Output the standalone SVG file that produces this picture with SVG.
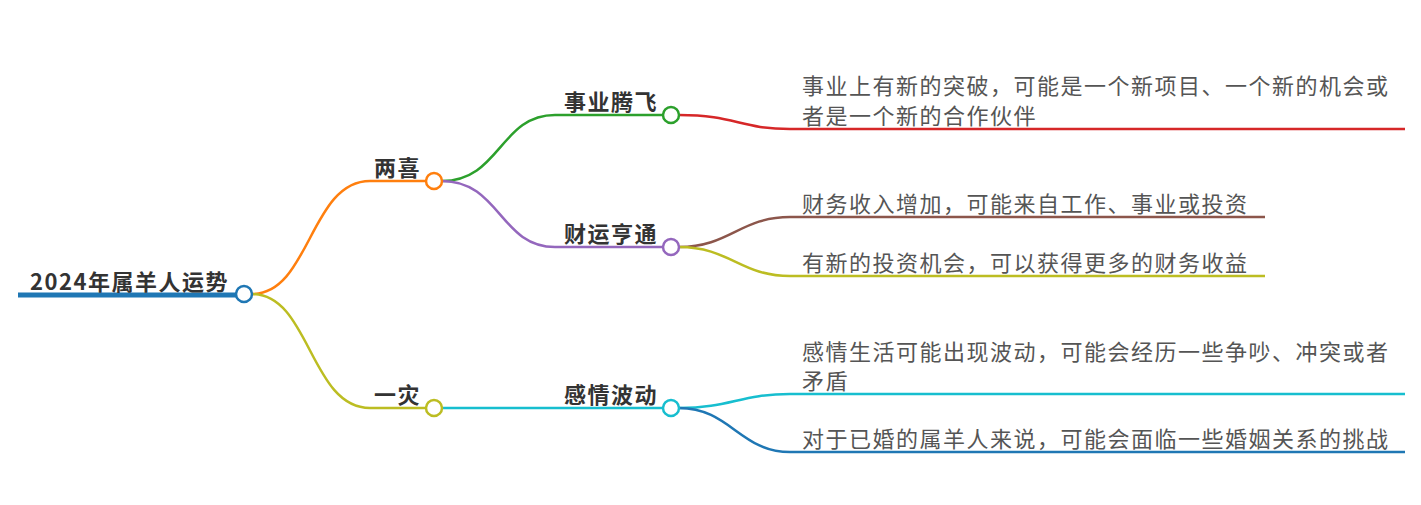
<svg xmlns="http://www.w3.org/2000/svg" width="1421" height="505" viewBox="0 0 1421 505">
<style>
.c{fill:none;stroke-width:2.5}
.n{fill:#fff;stroke-width:2.5}
.b{font-family:"Noto Sans CJK SC","Noto Sans",sans-serif;font-weight:bold;font-size:22px;fill:#333;text-anchor:end;letter-spacing:1.5px}
.l{font-family:"Noto Sans CJK SC","Noto Sans",sans-serif;font-size:22px;fill:#555;letter-spacing:1.5px}
</style>
<rect width="1421" height="505" fill="#fff"/>
<g id="connectors">
<path d="M18 295 H236" stroke="#1f77b4" stroke-width="5" fill="none"/>
<path class="c" stroke="#ff7f0e" d="M252 294 C310 294 310 181 370 181 H426"/>
<path class="c" stroke="#bcbd22" d="M252 294 C310 294 310 408 370 408 H426"/>
<path class="c" stroke="#2ca02c" d="M442 181 C500 181 500 115 555 115 H663"/>
<path class="c" stroke="#9467bd" d="M442 181 C500 181 500 247 555 247 H663"/>
<path class="c" stroke="#17becf" d="M442 408 H663"/>
<path class="c" stroke="#d62728" d="M679 115 C735 115 740 129 790 129 H1405"/>
<path class="c" stroke="#8c564b" d="M679 247 C730 247 740 217 790 217 H1265"/>
<path class="c" stroke="#bcbd22" d="M679 247 C730 247 740 276 790 276 H1265"/>
<path class="c" stroke="#17becf" d="M679 408 C730 408 740 394 790 394 H1405"/>
<path class="c" stroke="#1f77b4" d="M679 408 C730 408 740 452 790 452 H1405"/>
</g>
<g id="root">
<circle class="n" cx="244" cy="294" r="8" stroke="#1f77b4"/>
<text class="b" x="229" y="290">2024年属羊人运势</text>
</g>
<g id="liangxi">
<circle class="n" cx="434" cy="181" r="8" stroke="#ff7f0e"/>
<text class="b" x="421" y="176">两喜</text>
</g>
<g id="yizai">
<circle class="n" cx="434" cy="408" r="8" stroke="#bcbd22"/>
<text class="b" x="421" y="403">一灾</text>
</g>
<g id="shiye">
<circle class="n" cx="671" cy="115" r="8" stroke="#2ca02c"/>
<text class="b" x="658" y="110">事业腾飞</text>
</g>
<g id="caiyun">
<circle class="n" cx="671" cy="247" r="8" stroke="#9467bd"/>
<text class="b" x="658" y="242">财运亨通</text>
</g>
<g id="ganqing">
<circle class="n" cx="671" cy="408" r="8" stroke="#17becf"/>
<text class="b" x="658" y="403">感情波动</text>
</g>
<g id="leaf1">
<text class="l" x="802" y="94">事业上有新的突破，可能是一个新项目、一个新的机会或</text>
<text class="l" x="802" y="124">者是一个新的合作伙伴</text>
</g>
<g id="leaf2"><text class="l" x="802" y="212">财务收入增加，可能来自工作、事业或投资</text></g>
<g id="leaf3"><text class="l" x="802" y="271">有新的投资机会，可以获得更多的财务收益</text></g>
<g id="leaf4">
<text class="l" x="802" y="360">感情生活可能出现波动，可能会经历一些争吵、冲突或者</text>
<text class="l" x="802" y="389">矛盾</text>
</g>
<g id="leaf5"><text class="l" x="802" y="447">对于已婚的属羊人来说，可能会面临一些婚姻关系的挑战</text></g>
</svg>
